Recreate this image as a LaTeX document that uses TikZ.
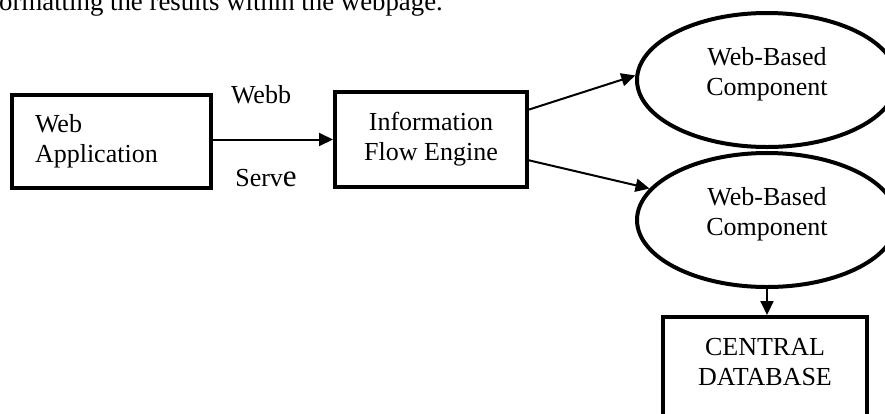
\documentclass[tikz,border=0pt]{standalone}
\usepackage{fontspec}
\setmainfont{Liberation Serif}
\usetikzlibrary{arrows.meta,shapes.geometric,calc}
\begin{document}
\begin{tikzpicture}[x=1pt,y=-1pt,
  every node/.style={font=\fontsize{26}{30}\selectfont},
  boxnode/.style={draw,rectangle,line width=4pt,inner sep=0pt},
  ellnode/.style={draw,ellipse,line width=4pt,inner sep=0pt,minimum width=260pt,minimum height=134pt,align=center,text depth=18pt},
  conn/.style={line width=2pt,-{Triangle[length=14pt,width=13pt]}},
  lbl/.style={inner sep=0pt}]
\clip (0,0) rectangle (885,413);
\fill[white] (0,0) rectangle (885,413);
\node[lbl,anchor=base west,font=\fontsize{26.8}{30}\selectfont] (top) at (-1,10) {ormatting the results within the webpage.};
\node[boxnode,minimum width=199pt,minimum height=93pt,text width=153pt,inner xsep=23pt,align=left] (app) at (111.5,141.5) {Web\\Application};
\node[boxnode,minimum width=192pt,minimum height=95pt,align=center] (info) at (431,139.5) {Information\\Flow Engine};
\node[ellnode] (e1) at (767,80) {Web-Based\\Component};
\node[ellnode] (e2) at (767,220) {Web-Based\\Component};
\node[boxnode,minimum width=204pt,minimum height=102pt,align=center,text depth=12pt] (db) at (765,368) {CENTRAL\\DATABASE};
\node[lbl] (webb) at (261,95) {Webb};
\node[lbl] (serve) at (266,178) {Serv{\fontsize{31}{30}\selectfont e}};
\draw[conn] (app.east |- info.west) -- (info.west);
\draw[conn] (info.17) -- (e1.178);
\draw[conn] (info.-12) -- (e2.165);
\draw[conn] (e2.south) -- (e2.south |- db.north);
\end{tikzpicture}
\end{document}
